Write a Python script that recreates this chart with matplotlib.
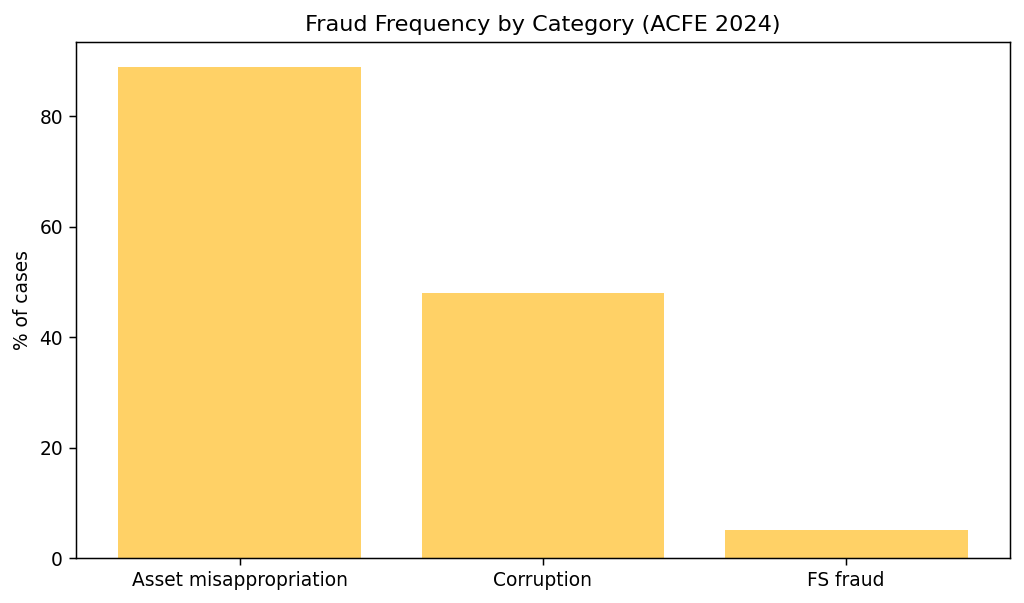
import matplotlib
matplotlib.use("Agg")
import matplotlib.pyplot as plt

# dados
categorias = ["Asset misappropriation", "Corruption", "FS fraud"]
percentuais = [89, 48, 5]

dpi = 134
fig, ax = plt.subplots(figsize=(1024 / dpi, 603 / dpi), dpi=dpi)
ax.bar(categorias, percentuais, color="#FFD166")
ax.set_title("Fraud Frequency by Category (ACFE 2024)")
ax.set_ylabel("% of cases")

fig.subplots_adjust(left=76 / 1024, right=1010 / 1024,
                    top=1 - 42 / 603, bottom=1 - 558 / 603)
fig.savefig("out.png", dpi=dpi)
